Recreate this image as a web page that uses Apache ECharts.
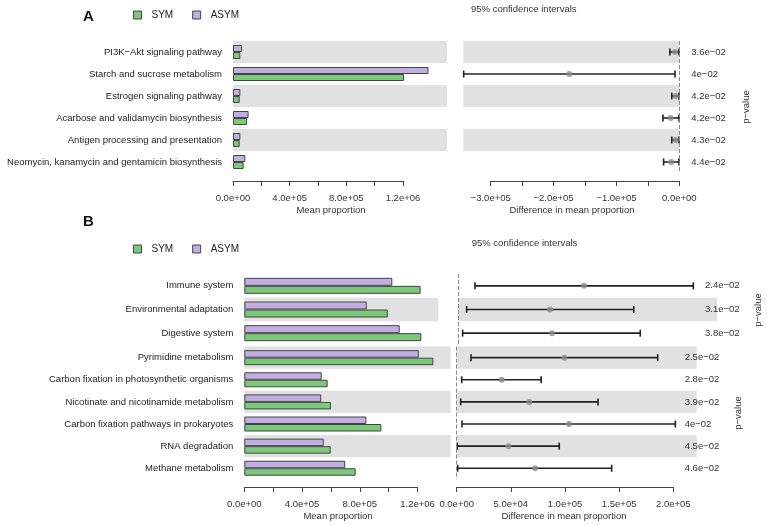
<!DOCTYPE html>
<html>
<head>
<meta charset="utf-8">
<script src="https://cdn.jsdelivr.net/npm/echarts@6/dist/echarts.min.js"></script>
<style>
  html, body { margin: 0; padding: 0; background: #fff; }
  #chart { width: 767px; height: 525px; }
</style>
</head>
<body>
<div id="chart"></div>
<script>
// panel A
const aPathways = ['PI3K−Akt signaling pathway', 'Starch and sucrose metabolism', 'Estrogen signaling pathway',
  'Acarbose and validamycin biosynthesis', 'Antigen processing and presentation',
  'Neomycin, kanamycin and gentamicin biosynthesis'];
const aSym = [5.2e4, 1.207e6, 4.7e4, 9.9e4, 4.7e4, 7.5e4];
const aAsym = [6.4e4, 1.38e6, 5.2e4, 1.1e5, 5.2e4, 8.7e4];
const aDiff = [-6.7e3, -1.75e5, -5.8e3, -1.37e4, -5.8e3, -1.27e4];
const aLow = [-1.5e4, -3.43e5, -1.2e4, -2.6e4, -1.2e4, -2.5e4];
const aHigh = [-5e2, -6.8e3, -5e2, -5e2, -5e2, -5e2];
const aPval = ['3.6e−02', '4e−02', '4.2e−02', '4.2e−02', '4.3e−02', '4.4e−02'];

// panel B, upper block
const b1Pathways = ['Immune system', 'Environmental adaptation', 'Digestive system'];
const b1Sym = [1.221e6, 0.993e6, 1.226e6];
const b1Asym = [1.025e6, 0.848e6, 1.076e6];
const b1Diff = [1.16e5, 8.47e4, 8.65e4];
const b1Low = [1.54e4, 7.7e3, 4.0e3];
const b1High = [2.17e5, 1.62e5, 1.68e5];
const b1Pval = ['2.4e−02', '3.1e−02', '3.8e−02'];

// panel B, lower block
const b2Pathways = ['Pyrimidine metabolism', 'Carbon fixation in photosynthetic organisms',
  'Nicotinate and nicotinamide metabolism', 'Carbon fixation pathways in prokaryotes',
  'RNA degradation', 'Methane metabolism'];
const b2Sym = [1.309e6, 0.577e6, 0.600e6, 0.949e6, 0.598e6, 0.771e6];
const b2Asym = [1.208e6, 0.536e6, 0.533e6, 0.845e6, 0.550e6, 0.699e6];
const b2Diff = [9.94e4, 4.15e4, 6.7e4, 1.037e5, 4.77e4, 7.23e4];
const b2Low = [1.32e4, 4.6e3, 3.7e3, 4.9e3, 6e2, 9e2];
const b2High = [1.856e5, 7.8e4, 1.305e5, 2.019e5, 9.47e4, 1.431e5];
const b2Pval = ['2.5e−02', '2.8e−02', '3.9e−02', '4e−02', '4.5e−02', '4.6e−02'];

// tick labels
const meanTicks = ['0.0e+00', '', '4.0e+05', '', '8.0e+05', '', '1.2e+06'];
const aDiffTicks = ['−3.0e+05', '', '−2.0e+05', '', '−1.0e+05', '', '0.0e+00'];
const bDiffTicks = ['0.0e+00', '5.0e+04', '1.0e+05', '1.5e+05', '2.0e+05'];

const FONT = '"Liberation Sans", Arial, sans-serif';
const FS = 9.5;
const GREEN = '#7bc87b';
const PURPLE = '#c2aee0';
const STRIPE = '#e1e1e1';
const INK = '#222';

const grids = [];
const xAxes = [];
const yAxes = [];
const series = [];

function addGrid(left, top, width, height) {
  grids.push({ left: left, top: top, width: width, height: height, containLabel: false, outerBoundsMode: 'none' });
  return grids.length - 1;
}

// visible R-style axis: line on top, ticks pointing down
function axisStrip(left, lineY, width, min, max, interval, labels) {
  const g = addGrid(left, lineY - 1, width, 1);
  xAxes.push({
    gridIndex: g, type: 'value', min: min, max: max, interval: interval, position: 'bottom',
    axisLine: { show: true, lineStyle: { color: '#444', width: 1 } },
    axisTick: { show: true, length: 5, lineStyle: { color: '#444' } },
    axisLabel: { margin: 12, fontSize: FS, fontFamily: FONT, color: '#333',
      formatter: (v, i) => labels[i] },
    splitLine: { show: false }
  });
  yAxes.push({ gridIndex: g, type: 'value', show: false });
}

function stripes(first) {
  return { show: true, areaStyle: { color: first ? [STRIPE, 'rgba(0,0,0,0)'] : ['rgba(0,0,0,0)', STRIPE] } };
}

function barPanel(left, top, width, height, pxPerUnit, names, sym, asym, firstStriped, barW) {
  const g = addGrid(left, top, width, height);
  xAxes.push({ gridIndex: g, type: 'value', min: 0, max: width / pxPerUnit, show: false, splitLine: { show: false } });
  yAxes.push({
    gridIndex: g, type: 'category', inverse: true, data: names,
    axisLine: { show: false }, axisTick: { show: false },
    axisLabel: { margin: 11, fontSize: FS, fontFamily: FONT, color: INK },
    splitArea: stripes(firstStriped)
  });
  const xi = xAxes.length - 1, yi = yAxes.length - 1;
  const style = c => ({ color: c, borderColor: '#444', borderWidth: 1 });
  series.push({ name: 'ASYM', type: 'bar', xAxisIndex: xi, yAxisIndex: yi, data: asym,
    barWidth: barW, barGap: '0%', itemStyle: style(PURPLE), silent: true });
  series.push({ name: 'SYM', type: 'bar', xAxisIndex: xi, yAxisIndex: yi, data: sym,
    barWidth: barW, barGap: '0%', itemStyle: style(GREEN), silent: true });
}

function ciRender(params, api) {
  const y = api.value(0);
  const a = api.coord([api.value(1), y]);
  const b = api.coord([api.value(2), y]);
  const h = 3.5;
  const st = { stroke: INK, lineWidth: 1.6 };
  return {
    type: 'group',
    children: [
      { type: 'line', shape: { x1: a[0], y1: a[1], x2: b[0], y2: b[1] }, style: st },
      { type: 'line', shape: { x1: a[0], y1: a[1] - h, x2: a[0], y2: a[1] + h }, style: st },
      { type: 'line', shape: { x1: b[0], y1: b[1] - h, x2: b[0], y2: b[1] + h }, style: st }
    ]
  };
}

function ciPanel(left, top, width, height, zeroX, pxPerUnit, names, diff, low, high, pvals, firstStriped, pOffset) {
  const g = addGrid(left, top, width, height);
  xAxes.push({ gridIndex: g, type: 'value', min: (left - zeroX) / pxPerUnit,
    max: (left + width - zeroX) / pxPerUnit, show: false, splitLine: { show: false } });
  const xi = xAxes.length - 1;
  yAxes.push({
    gridIndex: g, type: 'category', inverse: true, data: names,
    axisLine: { show: false }, axisTick: { show: false }, axisLabel: { show: false },
    splitArea: stripes(firstStriped)
  });
  const yi = yAxes.length - 1;
  yAxes.push({
    gridIndex: g, type: 'category', inverse: true, data: pvals, position: 'right', offset: pOffset,
    axisLine: { show: false }, axisTick: { show: false },
    axisLabel: { margin: 12, fontSize: FS, fontFamily: FONT, color: '#333' }
  });
  series.push({
    type: 'custom', xAxisIndex: xi, yAxisIndex: yi, renderItem: ciRender, silent: true, z: 3,
    encode: { x: [1, 2], y: 0 },
    data: names.map((n, i) => [i, low[i], high[i]])
  });
  series.push({
    type: 'scatter', xAxisIndex: xi, yAxisIndex: yi, symbolSize: 6, silent: true, z: 4,
    itemStyle: { color: '#8c8c8c' },
    data: diff.map((d, i) => [d, i]),
    markLine: {
      silent: true, symbol: 'none', label: { show: false },
      lineStyle: { type: 'dashed', color: '#888', width: 1 },
      data: [{ xAxis: 0 }]
    }
  });
}

// panel A
const aPx = 170 / 1.2e6;
barPanel(233, 41, 214, 132, aPx, aPathways, aSym, aAsym, true, 7);
axisStrip(233, 181, 170, 0, 1.2e6, 2e5, meanTicks);
const aDiffPx = 188.6 / 3e5;
ciPanel(463.3, 41, 216, 132, 679.3, aDiffPx, aPathways, aDiff, aLow, aHigh, aPval, true, 0);
axisStrip(490.7, 181, 188.6, -3e5, 0, 5e4, aDiffTicks);

// panel B
const bPx = 173.3 / 1.2e6;
const bDiffPx = 216.6 / 2e5;
barPanel(244.3, 274, 194, 71, bPx, b1Pathways, b1Sym, b1Asym, false, 8);
ciPanel(458.3, 274, 258.7, 71, 458.3, bDiffPx, b1Pathways, b1Diff, b1Low, b1High, b1Pval, false, -24);
barPanel(244.3, 346.6, 206.4, 132.7, bPx, b2Pathways, b2Sym, b2Asym, true, 7.5);
ciPanel(456.7, 346.6, 240, 132.7, 456.7, bDiffPx, b2Pathways, b2Diff, b2Low, b2High, b2Pval, true, -24);
axisStrip(244.3, 487, 173.3, 0, 1.2e6, 2e5, meanTicks);
axisStrip(456.7, 487, 216.6, 0, 2e5, 5e4, bDiffTicks);

function legendAt(top) {
  return {
    data: ['SYM', 'ASYM'], left: 128, top: top, icon: 'rect',
    itemWidth: 8, itemHeight: 8, itemGap: 19, selectedMode: false,
    itemStyle: { borderColor: '#444', borderWidth: 1 },
    textStyle: { fontSize: 10, fontFamily: FONT, color: INK, padding: [0, 0, 0, 5] }
  };
}

function label(text, x, y, opts) {
  return Object.assign({
    type: 'text', x: x, y: y, silent: true,
    style: Object.assign({ text: text, font: FS + 'px ' + FONT, fill: '#333',
      textAlign: 'center', textVerticalAlign: 'middle' }, (opts && opts.style) || {})
  }, opts && opts.rotation ? { rotation: opts.rotation } : {});
}

const option = {
  animation: false,
  backgroundColor: '#fff',
  grid: grids,
  xAxis: xAxes,
  yAxis: yAxes,
  legend: [legendAt(5), legendAt(239)],
  series: series,
  graphic: [
    label('A', 83, 17, { style: { font: 'bold 15px ' + FONT, fill: '#111', textAlign: 'left' } }),
    label('B', 83, 222, { style: { font: 'bold 15px ' + FONT, fill: '#111', textAlign: 'left' } }),
    label('95% confidence intervals', 471, 9, { style: { textAlign: 'left' } }),
    label('95% confidence intervals', 471.7, 243.3, { style: { textAlign: 'left' } }),
    label('Mean proportion', 331, 210),
    label('Difference in mean proportion', 572, 210),
    label('Mean proportion', 338, 516),
    label('Difference in mean proportion', 564, 516),
    label('p−value', 746, 107, { rotation: Math.PI / 2 }),
    label('p−value', 758, 310, { rotation: Math.PI / 2 }),
    label('p−value', 738, 413, { rotation: Math.PI / 2 })
  ]
};

const chart = echarts.init(document.getElementById('chart'), null, { renderer: 'canvas' });
chart.setOption(option);
</script>
</body>
</html>
